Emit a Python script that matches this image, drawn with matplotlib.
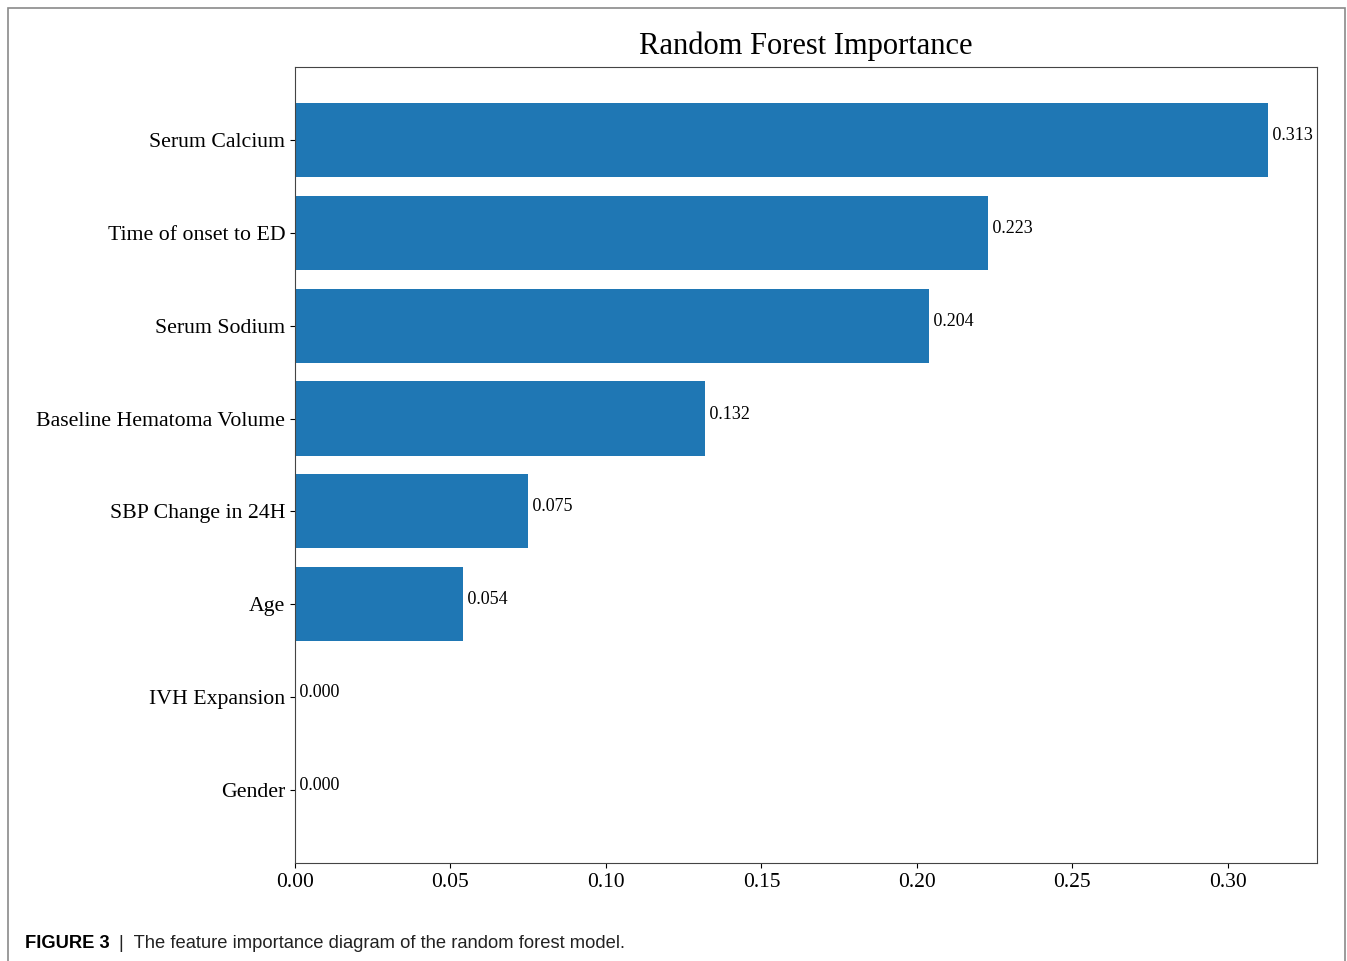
import matplotlib.pyplot as plt
from matplotlib.patches import Rectangle

features = ['Gender', 'IVH Expansion', 'Age', 'SBP Change in 24H',
            'Baseline Hematoma Volume', 'Serum Sodium', 'Time of onset to ED',
            'Serum Calcium']
importance = [0.000, 0.000, 0.054, 0.075, 0.132, 0.204, 0.223, 0.313]
xticks = [0.00, 0.05, 0.10, 0.15, 0.20, 0.25, 0.30]

plt.rcParams['font.family'] = ['Liberation Serif', 'DejaVu Serif']

fig = plt.figure(figsize=(13.47, 9.61), dpi=100)
ax = fig.add_axes([0.219, 0.102, 0.7587, 0.8283])

ax.barh(range(len(features)), importance, height=0.8, color='#1f77b4')
for i, v in enumerate(importance):
    ax.text(v, i, ' %.3f' % v, ha='left', va='baseline', fontsize=13)

ax.set_yticks(range(len(features)))
ax.set_yticklabels(features, fontsize=15.7)
ax.set_xticks(xticks)
ax.set_xticklabels(['%.2f' % t for t in xticks], fontsize=15.5)
ax.set_title('Random Forest Importance', fontsize=22, pad=9)
for s in ax.spines.values():
    s.set_color('#444444')

# journal frame and caption
fig.patches.append(Rectangle((8 / 1347, -0.05), 1337 / 1347, 1.05 - 8 / 961,
                             transform=fig.transFigure, fill=False,
                             edgecolor='#8a8a8a', linewidth=1.2))
fig.text(25 / 1347, 1 - 943 / 961, 'FIGURE 3', fontsize=13.2, fontweight='bold',
         family='Liberation Sans', va='center')
fig.text(119 / 1347, 1 - 943 / 961, '|  The feature importance diagram of the random forest model.',
         fontsize=13.2, family='Liberation Sans', va='center', color='#222222')

fig.savefig('out.png', dpi=100)
